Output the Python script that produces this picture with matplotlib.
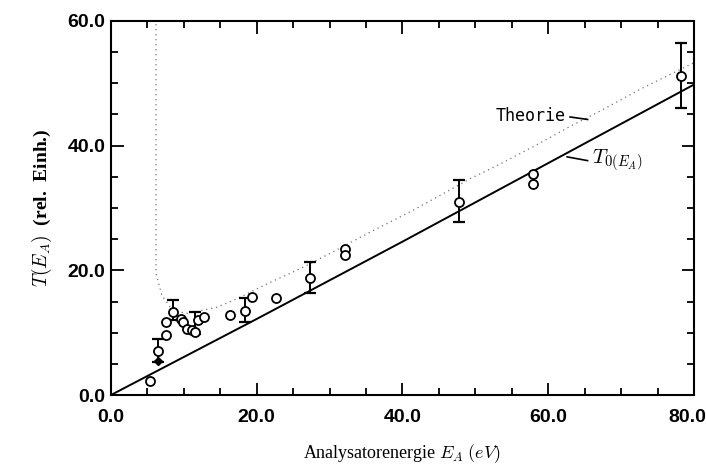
"""Transmission T(E_A) vs analyser energy - measured points, fit line and theory."""

import matplotlib.pyplot as plt
import matplotlib.transforms as mtransforms
import numpy as np

# measured points (open circles)
e_meas = [5.4, 6.5, 7.6, 7.6, 8.5, 9.6, 9.9, 10.5, 11.1, 11.5, 11.9, 12.8,
          16.4, 18.4, 19.3, 22.7, 27.3, 32.1, 32.1, 47.8, 57.9, 57.9, 78.2]
t_meas = [2.3, 7.1, 9.6, 11.7, 13.3, 12.2, 11.7, 10.6, 10.4, 10.1, 12.0, 12.5,
          12.8, 13.5, 15.7, 15.6, 18.8, 23.5, 22.4, 31.0, 35.5, 33.8, 51.2]

# points carrying error bars
e_err = [6.5, 8.5, 11.5, 18.4, 27.3, 47.8, 78.2]
t_err = [7.1, 13.3, 10.1, 13.5, 18.8, 31.0, 51.2]
t_hi = [9.0, 15.2, 13.3, 15.6, 21.3, 34.5, 56.4]
t_lo = [5.3, 12.0, 9.8, 11.7, 16.4, 27.8, 46.1]

# fitted T0(E_A)
e_fit = [0.0, 20.0, 40.0, 60.0, 80.0]
t_fit = [0.0, 12.2, 24.6, 37.2, 49.8]

# theory curve (dotted)
e_th = [6.2, 6.2, 7.0, 8.5, 10.5, 14.6, 17.2, 21.9, 26.4, 30.5, 35.2, 41.4,
        49.3, 53.5, 59.0, 62.7, 67.2, 72.7, 80.0]
t_th = [59.5, 19.5, 16.0, 13.5, 13.1, 14.1, 15.4, 18.1, 20.5, 23.0, 25.9, 29.6,
        34.7, 37.1, 40.5, 42.9, 45.6, 49.1, 53.3]

plt.rcParams["mathtext.fontset"] = "cm"

fig = plt.figure(figsize=(7.06, 4.76), dpi=100)
ax = fig.add_axes([0.157, 0.170, 0.826, 0.786])

ax.plot(e_th, t_th, color="0.45", linestyle=(0, (1, 3)), linewidth=0.9)
ax.plot(e_fit, t_fit, color="black", linewidth=1.4)

yerr = [np.array(t_err) - np.array(t_lo), np.array(t_hi) - np.array(t_err)]
ax.errorbar(e_err, t_err, yerr=yerr, fmt="none", ecolor="black",
            elinewidth=1.4, capsize=4.5, capthick=1.6)
ax.plot(e_meas, t_meas, "o", markersize=6.5, markerfacecolor="white",
        markeredgecolor="black", markeredgewidth=1.3)
ax.plot([6.5], [5.5], "D", markersize=4, color="black")

ax.text(52.8, 44.8, "Theorie", fontsize=12, family="DejaVu Sans Mono",
        va="center", ha="left")
ax.plot([63.0, 65.4], [44.6, 44.2], color="black", linewidth=1.2)
ax.text(66.0, 37.6, r"$T_{0(E_A)}$", fontsize=15, va="center", ha="left")
ax.plot([62.6, 65.4], [38.2, 37.6], color="black", linewidth=1.2)

ax.set_xlim(0, 80)
ax.set_ylim(0, 60)
ax.set_xticks([0, 20, 40, 60, 80])
ax.set_yticks([0, 20, 40, 60])
ax.set_xticks(np.arange(0, 81, 5), minor=True)
ax.set_yticks(np.arange(0, 61, 5), minor=True)
ax.set_xticklabels(["0.0", "20.0", "40.0", "60.0", "80.0"])
ax.set_yticklabels(["0.0", "20.0", "40.0", "60.0"])
ax.tick_params(which="both", direction="in", top=True, right=True, width=1.3)
ax.tick_params(which="major", length=9, labelsize=14, pad=10)
ax.tick_params(which="minor", length=5)
ax.tick_params(axis="y", pad=4)
for lab in ax.get_xticklabels() + ax.get_yticklabels():
    lab.set_family("Liberation Sans")
    lab.set_fontweight("bold")
# last x label sits a little left of its tick, as in the original print
last = ax.get_xticklabels()[-1]
last.set_horizontalalignment("right")
last.set_transform(last.get_transform() + mtransforms.ScaledTranslation(
    12 / 100, 0, fig.dpi_scale_trans))
for sp in ax.spines.values():
    sp.set_linewidth(1.5)

ax.set_xlabel(r"Analysatorenergie $E_A$ $(eV)$", fontsize=13,
              family="Liberation Serif", labelpad=12)
ax.set_ylabel(r"$T(E_A)$  (rel.  Einh.)", fontsize=14,
              family="Liberation Serif", fontweight="bold", labelpad=10)

fig.savefig("out.png", dpi=100)
